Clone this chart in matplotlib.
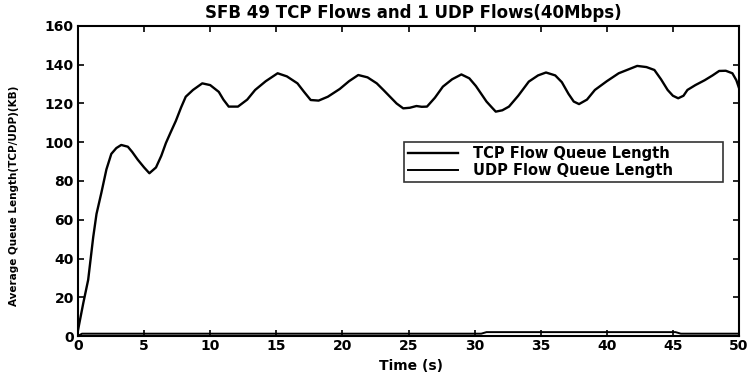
import matplotlib
matplotlib.use("Agg")
import matplotlib.pyplot as plt

plt.rcParams['font.family'] = ['DejaVu Sans']

title = "SFB 49 TCP Flows and 1 UDP Flows(40Mbps)"
xlabel = "Time (s)"
ylabel = "Average Queue Length(TCP/UDP)(KB)"
tcp_label = "TCP Flow Queue Length"
udp_label = "UDP Flow Queue Length"

tcp_t = [0.0, 0.2, 0.4, 0.77, 1.15, 1.4, 1.77, 2.15, 2.52, 2.9, 3.27, 3.77, 4.1, 4.52,
         5.0, 5.4, 5.9, 6.3, 6.65, 7.0, 7.4, 7.8, 8.15, 8.7, 9.4, 10.0, 10.65, 11.0,
         11.4, 12.1, 12.8, 13.4, 14.2, 15.1, 15.8, 16.6, 17.1, 17.6, 18.2, 18.9,
         19.8, 20.5, 21.2, 21.9, 22.6, 23.1, 23.6, 24.1, 24.6, 25.1, 25.6, 26.0,
         26.4, 27.0, 27.6, 28.3, 29.0, 29.6, 30.1, 30.5, 30.9, 31.3, 31.6, 32.1,
         32.6, 33.3, 34.1, 34.8, 35.4, 36.1, 36.6, 37.1, 37.5, 37.9, 38.5, 39.1,
         40.0, 40.9, 41.6, 42.3, 43.0, 43.6, 44.1, 44.6, 45.0, 45.4, 45.8, 46.1,
         46.7, 47.4, 48.0, 48.5, 49.0, 49.5, 49.8, 50.0]
tcp_q = [3, 10, 17, 29, 51, 63, 74, 86, 94, 97, 98.6, 97.7, 95, 91,
         87, 84, 87, 93, 99.6, 105, 111, 118, 123.5, 127, 130.4, 129.5, 126, 122,
         118.4, 118.4, 122, 127, 131.5, 135.6, 134, 130.4, 126, 121.8, 121.5, 123.5,
         127.5, 131.5, 134.7, 133.5, 130.4, 127, 123.5, 120, 117.5, 117.8, 118.7, 118.3,
         118.4, 123, 128.7, 132.5, 135, 133, 129, 125, 121, 118, 115.8, 116.5,
         118.4, 124, 131.3, 134.5, 136, 134.5, 131, 125, 121, 119.7, 122, 127,
         131.5, 135.6, 137.5, 139.4, 138.8, 137.3, 132.5, 127, 124, 122.7, 124, 127,
         129.5, 132, 134.5, 136.8, 136.9, 135.6, 132, 128]

udp_t = [0.0, 0.3, 10, 20, 30.5, 30.9, 38, 45.2, 45.6, 50.0]
udp_q = [0, 1.2, 1.2, 1.2, 1.2, 2.0, 2.0, 2.0, 1.2, 1.2]

xticks = [0, 5, 10, 15, 20, 25, 30, 35, 40, 45, 50]
yticks = [0, 20, 40, 60, 80, 100, 120, 140, 160]

W, H = 749, 376
fig = plt.figure(figsize=(W / 100, H / 100), dpi=100)
left, right, bottom, top = 78, 739, 336, 26
ax = fig.add_axes([left / W, 1 - bottom / H, (right - left) / W, (bottom - top) / H])

ax.plot(tcp_t, tcp_q, color='black', lw=1.7, label=tcp_label)
ax.plot(udp_t, udp_q, color='black', lw=1.4, label=udp_label)

ax.set_xlim(0, 50)
ax.set_ylim(0, 160)
ax.set_xticks(xticks)
ax.set_yticks(yticks)
ax.tick_params(direction='in', top=True, right=True, length=4, width=1.2,
               labelsize=10, pad=3)
ax.tick_params(axis='x', pad=2)
for lab in ax.get_xticklabels() + ax.get_yticklabels():
    lab.set_fontweight('bold')
for s in ax.spines.values():
    s.set_linewidth(1.5)

fig.text(413 / W, 1 - 13 / H, title, fontsize=12, fontweight='bold',
         ha='center', va='center')
fig.text(411 / W, 1 - 366 / H, xlabel, fontsize=10, fontweight='bold',
         ha='center', va='center')
fig.text(14 / W, 1 - 196 / H, ylabel, fontsize=7.5, fontweight='bold',
         ha='center', va='center', rotation=90)

lx0 = (404 - left) / (right - left)
lx1 = (723 - left) / (right - left)
ly1 = (bottom - 142) / (bottom - top)
ly0 = (bottom - 184) / (bottom - top)
leg = ax.legend(loc='upper left', bbox_to_anchor=(lx0, ly0, lx1 - lx0, ly1 - ly0),
                mode='expand', prop={'weight': 'bold', 'size': 10.5},
                frameon=True, fancybox=False, edgecolor='black',
                handlelength=3.4, borderpad=0.3, labelspacing=0.1,
                handletextpad=1.0, borderaxespad=0)
leg.get_frame().set_linewidth(1.2)

fig.savefig("out.png", dpi=100)
